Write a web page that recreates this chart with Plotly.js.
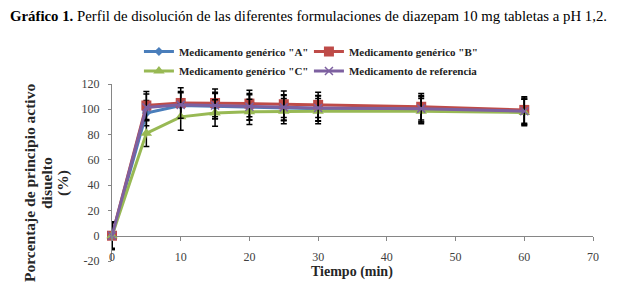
<!DOCTYPE html>
<html>
<head>
<meta charset="utf-8">
<script src="https://cdn.plot.ly/plotly-3.0.1.min.js"></script>
<style>html,body{margin:0;padding:0;background:#fff;}#chart{width:620px;height:298px;}</style>
</head>
<body>
<div id="chart"></div>
<script>
const tiempo = [0, 5, 10, 15, 20, 25, 30, 45, 60];
const genA = [0, 97, 103, 102.5, 101.5, 101, 100.5, 100, 98];
const genB = [0, 103, 105, 105, 104.5, 104, 103.5, 102, 99.5];
const genC = [0, 81, 94, 97, 98, 98.5, 98.5, 98.5, 97.5];
const refe = [0, 101.5, 103.5, 103, 102, 101.5, 101, 100.5, 98.5];
const errA = [10, 10, 10, 10, 10, 10, 10, 10, 10];
const errB = [11, 11, 12, 11, 10.5, 10.5, 10, 10.5, 10.5];
const errC = [11, 10.5, 10.5, 10.5, 10, 10, 10, 10, 10.5];
const errR = [10.5, 10.5, 10.5, 10.5, 10.5, 10, 10, 10.5, 10.5];
const names = ['Medicamento genérico "A"', 'Medicamento genérico "B"', 'Medicamento genérico "C"', 'Medicamento de referencia'];
const yTicks = [-20, 0, 20, 40, 60, 80, 100, 120];
const xTicks = [0, 10, 20, 30, 40, 50, 60, 70];
const yTitleLines = ['Porcentaje de principio activo', 'disuelto', '(%)'];
const xTitle = 'Tiempo (min)';

const serif = 'Liberation Serif, Times New Roman, serif';
function errBar(arr){return {type:'data', array:arr, visible:true, color:'#000', thickness:1.5, width:3};}

const traces = [
  {x:tiempo, y:genA, name:names[0], legend:'legend', mode:'lines+markers', cliponaxis:false,
   line:{color:'#4A7EBB', width:3}, marker:{symbol:'diamond', size:7, color:'#4A7EBB'}, error_y:errBar(errA)},
  {x:tiempo, y:genB, name:names[1], legend:'legend', mode:'lines+markers', cliponaxis:false,
   line:{color:'#BE4B48', width:3}, marker:{symbol:'square', size:10, color:'#BE4B48'}, error_y:errBar(errB)},
  {x:tiempo, y:genC, name:names[2], legend:'legend2', mode:'lines+markers', cliponaxis:false,
   line:{color:'#98B954', width:3}, marker:{symbol:'triangle-up', size:10, color:'#98B954'}, error_y:errBar(errC)},
  {x:tiempo, y:refe, name:names[3], legend:'legend2', mode:'lines+markers', cliponaxis:false,
   line:{color:'#7D60A0', width:3}, marker:{symbol:'x-thin-open', size:8, color:'#7D60A0', line:{color:'#7D60A0', width:1.5}}, error_y:errBar(errR)}
];

const legFont = {family:serif, size:11, color:'#222', weight:'bold'};
const yLineX = [30, 47, 63];

const layout = {
  width:620, height:298,
  margin:{l:112, r:27, t:84, b:37, pad:0},
  paper_bgcolor:'#fff', plot_bgcolor:'#fff',
  font:{family:serif, size:12, color:'#404040'},
  showlegend:true,
  title:{text:'<b>Gráfico 1.</b> Perfil de disolución de las diferentes formulaciones de diazepam 10 mg tabletas a pH 1,2.',
         font:{family:serif, size:14.8, color:'#000'}, xref:'container', yref:'container', x:10/620, xanchor:'left', y:1-16/298, yanchor:'middle'},
  legend:{orientation:'h', x:0.056, xanchor:'left', y:1.2655, yanchor:'top', entrywidth:125, entrywidthmode:'pixels',
          font:legFont, bgcolor:'rgba(0,0,0,0)'},
  legend2:{orientation:'h', x:0.056, xanchor:'left', y:1.155, yanchor:'top', entrywidth:125, entrywidthmode:'pixels',
          font:legFont, bgcolor:'rgba(0,0,0,0)'},
  xaxis:{range:[0,70], tickvals:xTicks, ticktext:xTicks.map(String), showline:true, linecolor:'#868686', linewidth:1,
         ticks:'outside', ticklen:4, tickcolor:'#868686', showgrid:false, zeroline:false,
         anchor:'free', position:20/140, tickfont:{family:serif, size:12, color:'#404040'}, ticklabelstandoff:6},
  yaxis:{range:[-20,120], tickvals:yTicks, ticktext:yTicks.map(String), showline:true, linecolor:'#868686', linewidth:1,
         ticks:'outside', ticklen:3, tickcolor:'#868686', showgrid:false, zeroline:false,
         tickfont:{family:serif, size:12, color:'#404040'}, ticklabelstandoff:6},
  annotations: yTitleLines.map((t, i) => ({
      text:'<b>' + t + '</b>', textangle:-90, xref:'paper', yref:'paper',
      x:0, xshift:yLineX[i] - 112, xanchor:'center', y:0.4407, yanchor:'middle', showarrow:false,
      font:{family:serif, size:15.5, color:'#262626'}})).concat([
    {text:'<b>' + xTitle + '</b>', xref:'paper', yref:'paper', x:0.499, xanchor:'center', y:-0.062, yanchor:'middle',
     showarrow:false, font:{family:serif, size:14, color:'#262626'}}
  ]),
  hovermode:false
};
Plotly.newPlot('chart', traces, layout, {displayModeBar:false, staticPlot:true});
</script>
</body>
</html>
